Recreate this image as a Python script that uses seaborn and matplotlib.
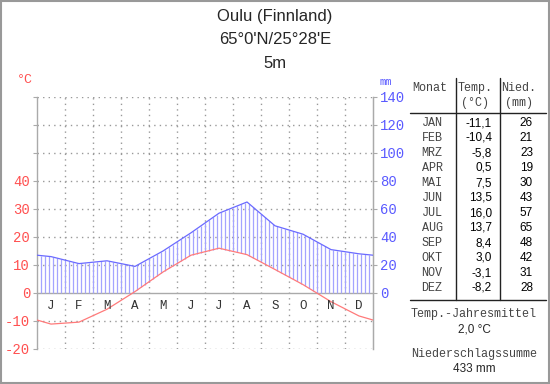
import numpy as np
import pandas as pd
import matplotlib
matplotlib.use("Agg")
import matplotlib.pyplot as plt
import seaborn as sns
from matplotlib.patches import Rectangle
from matplotlib.lines import Line2D

# ---- data ----
station = "Oulu (Finnland)"
coords = "65°0'N/25°28'E"
elevation = "5m"
month_letters = ["J", "F", "M", "A", "M", "J", "J", "A", "S", "O", "N", "D"]
month_names = ["JAN", "FEB", "MRZ", "APR", "MAI", "JUN", "JUL", "AUG", "SEP", "OKT", "NOV", "DEZ"]
temp = [-11.1, -10.4, -5.8, 0.5, 7.5, 13.5, 16.0, 13.7, 8.4, 3.0, -3.1, -8.2]
precip = [26, 21, 23, 19, 30, 43, 57, 65, 48, 42, 31, 28]
temp_ticks = [-20, -10, 0, 10, 20, 30, 40]
precip_ticks = [0, 20, 40, 60, 80, 100, 120, 140]
mean_temp_label = "2,0 °C"
sum_precip_label = "433 mm"

RED = "#ff5050"
LINE_RED = "#ff7a7a"
BLUE = "#5a5aff"
LINE_BLUE = "#6a6aff"
HATCH = "#a4a4ff"
GRID = "#999999"
MONO = "Liberation Mono"
SANS = "Liberation Sans"

sns.set_style("white")
plt.rcParams["font.family"] = ["Liberation Sans", "DejaVu Sans"]

W, H = 550, 384
fig = plt.figure(figsize=(W / 100, H / 100), dpi=100)
fig.patch.set_facecolor("white")

def fx(x):
    return x / W

def fy(y):
    return 1 - y / H

ax = fig.add_axes([fx(37), fy(349), fx(373) - fx(37), fy(97) - fy(349)])
ax.set_xlim(0, 12)
ax.set_ylim(-20, 70)

# wrap-around curves (month midpoints plus edges)
t = np.array(temp)
p = np.array(precip) / 2.0
edge_t = (t[0] + t[-1]) / 2
edge_p = (p[0] + p[-1]) / 2
xs = np.concatenate([[0], np.arange(12) + 0.5, [12]])
ts = np.concatenate([[edge_t], t, [edge_t]])
ps = np.concatenate([[edge_p], p, [edge_p]])
df = pd.DataFrame({"x": xs, "temp": ts, "precip": ps})

# grid
for yv in range(-20, 71, 10):
    if yv == 0:
        continue
    ax.axhline(yv, color=GRID, lw=1, ls=(0, (1, 3)), zorder=0)
for xv in range(1, 12):
    ax.axvline(xv, color=GRID, lw=1, ls=(0, (1, 3)), zorder=0)
ax.axhline(0, color="#aaaaaa", lw=1, zorder=1)

# hatching (humid period)
hx = np.arange(1, 84) / 7.0
hp = np.interp(hx, xs, ps)
ht = np.maximum(np.interp(hx, xs, ts), 0)
mask = hp > ht
ax.vlines(hx[mask], ht[mask], hp[mask], color=HATCH, lw=0.9, zorder=2)

sns.lineplot(data=df, x="x", y="precip", ax=ax, color=LINE_BLUE, lw=0.9, zorder=3)
sns.lineplot(data=df, x="x", y="temp", ax=ax, color=LINE_RED, lw=0.9, zorder=3)

for s in ["top", "bottom"]:
    ax.spines[s].set_visible(False)
for s in ["left", "right"]:
    ax.spines[s].set_color("#aaaaaa")
    ax.spines[s].set_linewidth(1)

ax.set_xlabel("")
ax.set_ylabel("")
ax.set_xticks([])
ax.set_yticks(list(range(-20, 71, 10)))
ax.set_yticklabels([str(v) if v in temp_ticks else "" for v in range(-20, 71, 10)])
ax.tick_params(axis="y", left=True, length=3, color="#aaaaaa", pad=2,
               labelcolor=RED, labelsize=10)
for lab in ax.get_yticklabels():
    lab.set_fontfamily(MONO)

for i, m in enumerate(month_letters):
    ax.text(i + 0.5, -4.6, m, ha="center", va="center", color="#333333",
            fontsize=9, family=MONO)

ax2 = ax.twinx()
ax2.set_ylim(-40, 140)
ax2.set_yticks(precip_ticks)
ax2.set_yticklabels([str(v) for v in precip_ticks])
ax2.tick_params(axis="y", right=True, length=3, color="#aaaaaa", pad=2,
                labelcolor=BLUE, labelsize=10)
for lab in ax2.get_yticklabels():
    lab.set_fontfamily(MONO)
for s in ["top", "bottom", "left"]:
    ax2.spines[s].set_visible(False)
ax2.spines["right"].set_color("#aaaaaa")
ax2.grid(False)

# unit labels
fig.text(fx(25), fy(80), "°C", color=RED, fontsize=9.5, family=MONO, ha="center", va="center")
fig.text(fx(386), fy(82), "mm", color=BLUE, fontsize=7.5, family=MONO, ha="center", va="center")

# titles
fig.text(0.5, fy(17), station, ha="center", va="center", fontsize=12, family=SANS)
fig.text(0.5, fy(40), coords, ha="center", va="center", fontsize=12, family=SANS)
fig.text(0.5, fy(63), elevation, ha="center", va="center", fontsize=12, family=SANS)

# table
TCOL = "#444444"
for xl in (456, 500):
    fig.add_artist(Line2D([fx(xl), fx(xl)], [fy(78), fy(300)], color="#222222", lw=1))
for yl in (113, 300):
    fig.add_artist(Line2D([fx(410), fx(546)], [fy(yl), fy(yl)], color="#222222", lw=1))

fig.text(fx(430), fy(88), "Monat", ha="center", va="center", fontsize=8.5, family=MONO, color=TCOL)
fig.text(fx(475), fy(88), "Temp.", ha="center", va="center", fontsize=8.5, family=MONO, color=TCOL)
fig.text(fx(475), fy(103), "(°C)", ha="center", va="center", fontsize=8.5, family=MONO, color=TCOL)
fig.text(fx(519), fy(88), "Nied.", ha="center", va="center", fontsize=8.5, family=MONO, color=TCOL)
fig.text(fx(519), fy(103), "(mm)", ha="center", va="center", fontsize=8.5, family=MONO, color=TCOL)

for i, (mn, tv, pv) in enumerate(zip(month_names, temp, precip)):
    y = 123 + 15 * i
    fig.text(fx(432), fy(y), mn, ha="center", va="center", fontsize=8.5, family=MONO, color=TCOL)
    fig.text(fx(492), fy(y), f"{tv:.1f}".replace(".", ","), ha="right", va="center",
             fontsize=8.5, family=SANS, color="black")
    fig.text(fx(533), fy(y), str(pv), ha="right", va="center", fontsize=8.5, family=SANS, color="black")

fig.text(fx(474), fy(314), "Temp.-Jahresmittel", ha="center", va="center", fontsize=8.5, family=MONO, color=TCOL)
fig.text(fx(474), fy(329), mean_temp_label, ha="center", va="center", fontsize=8.5, family=SANS)
fig.text(fx(474), fy(354), "Niederschlagssumme", ha="center", va="center", fontsize=8.5, family=MONO, color=TCOL)
fig.text(fx(474), fy(369), sum_precip_label, ha="center", va="center", fontsize=8.5, family=SANS)

# outer border
fig.add_artist(Rectangle((0.001, 0.002), 0.997, 0.996, transform=fig.transFigure,
                         fill=False, edgecolor="#999999", lw=1.5))

fig.savefig("out.png", dpi=100)
